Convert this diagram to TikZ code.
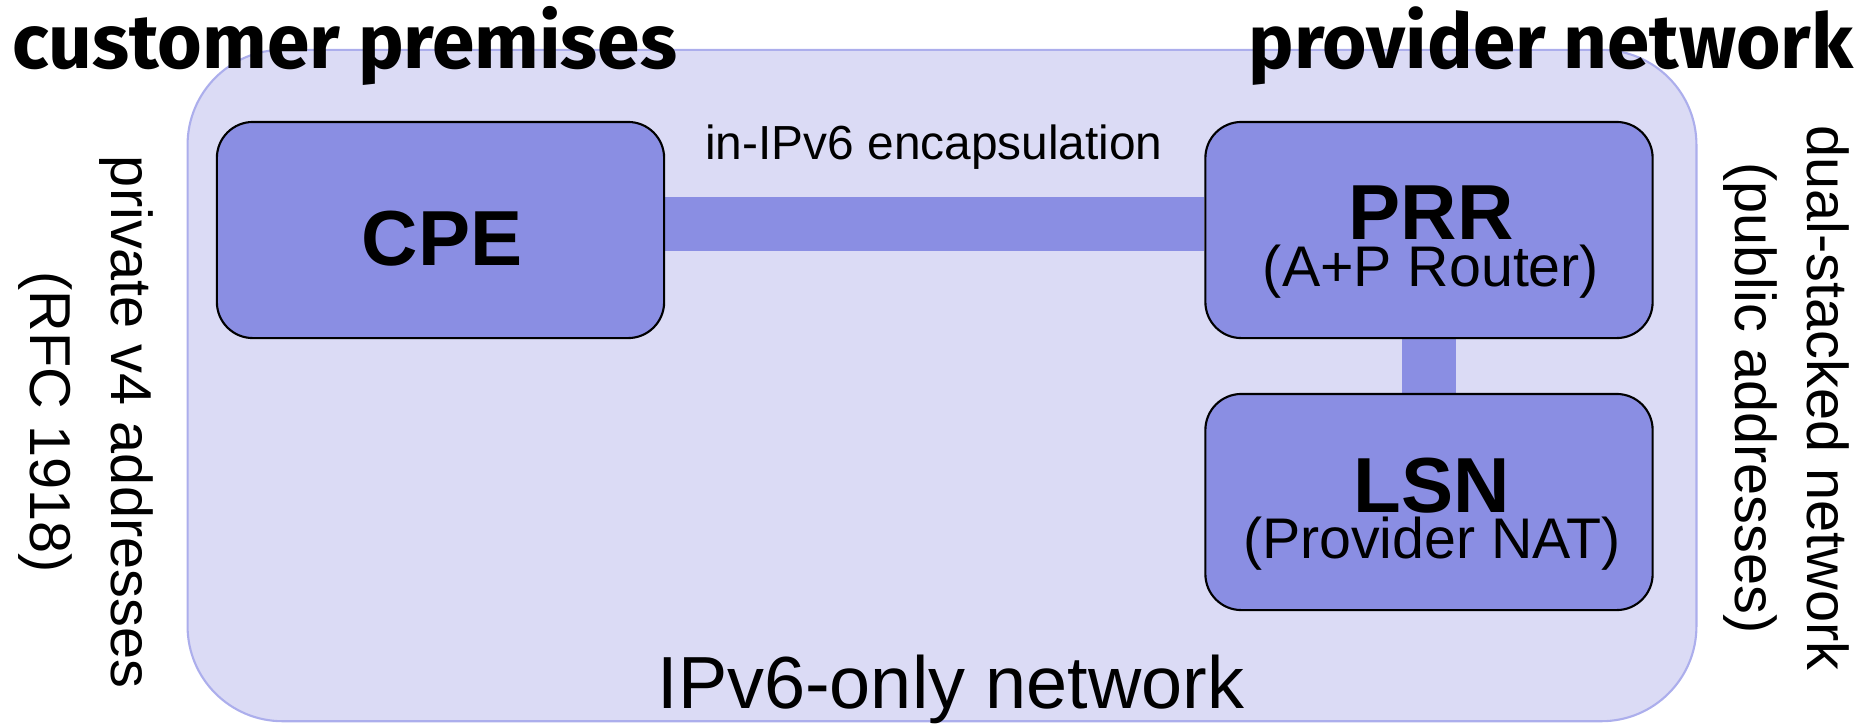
\documentclass[tikz,border=0pt]{standalone}
\usepackage{fontspec}
\usepackage{graphicx}
\setmainfont{Liberation Sans}
\newfontfamily\handfont{Fira Sans}
\usetikzlibrary{backgrounds}
\definecolor{zonefill}{RGB}{219,219,245}
\definecolor{zoneline}{RGB}{172,174,236}
\definecolor{boxfill}{RGB}{138,142,227}
\tikzset{
  zone/.style={draw=zoneline, fill=zonefill, line width=0.6pt, rounded corners=0.95cm,
    minimum width=15.08cm, minimum height=6.71cm, inner sep=0pt},
  device/.style={draw=black, fill=boxfill, line width=0.6pt, rounded corners=0.36cm,
    minimum width=4.47cm, minimum height=2.16cm, inner sep=0pt},
  link/.style={draw=boxfill, line width=0.54cm},
  devname/.style={inner sep=0pt, anchor=base, font=\fontsize{22.2}{26}\selectfont\bfseries},
  devrole/.style={inner sep=0pt, anchor=base, font=\fontsize{16.3}{19}\selectfont},
  sidenote/.style={inner sep=0pt, rotate=-90, align=center},
  heading/.style={inner sep=0pt}
}
\begin{document}
\begin{tikzpicture}[x=0.01cm,y=-0.01cm]
\useasboundingbox (0,0) rectangle (1876,723);

% the IPv6-only access network
\begin{pgfonlayer}{background}
  \node[zone] (net) at (942,385.5) {};
\end{pgfonlayer}

% devices
\node[device] (cpe) at (440.5,230) {};
\node[device] (prr) at (1429,230) {};
\node[device] (lsn) at (1429,502) {};

% links between the devices
\begin{pgfonlayer}{background}
  \draw[link] ([yshift=0.06cm]cpe.east) -- ([yshift=0.06cm]prr.west);
  \draw[link] (prr.south) -- (lsn.north);
\end{pgfonlayer}

% device labels
\node[devname] (cpeT) at (442,265.5) {CPE};
\node[devname] (prrT) at (1431,239) {PRR};
\node[devrole] (prrS) at (1431,286) {(A+P Router)};
\node[devname] (lsnT) at (1432,512) {LSN};
\node[devrole] (lsnS) at (1432,558) {(Provider NAT)};

% network labels
\node[inner sep=0pt, anchor=base, font=\fontsize{13.6}{16}\selectfont] (encap) at (934,159) {in-IPv6 encapsulation};
\node[inner sep=0pt, anchor=base, font=\fontsize{21}{25}\selectfont] (v6only) at (951,708) {IPv6-only network};

\node[sidenote, font=\fontsize{16.4}{23}\selectfont] (priv) at (86,422) {private v4 addresses\\(RFC 1918)};
\node[sidenote, font=\fontsize{16.4}{20.5}\selectfont] (dual) at (1786,398) {dual-stacked network\\(public addresses)};

% headings
\node[heading, anchor=base west] (cust) at (12,68) {\resizebox{6.64cm}{!}{\handfont\bfseries customer premises}};
\node[heading, anchor=base east] (prov) at (1854,68) {\resizebox{6.04cm}{!}{\handfont\bfseries provider network}};
\end{tikzpicture}
\end{document}
